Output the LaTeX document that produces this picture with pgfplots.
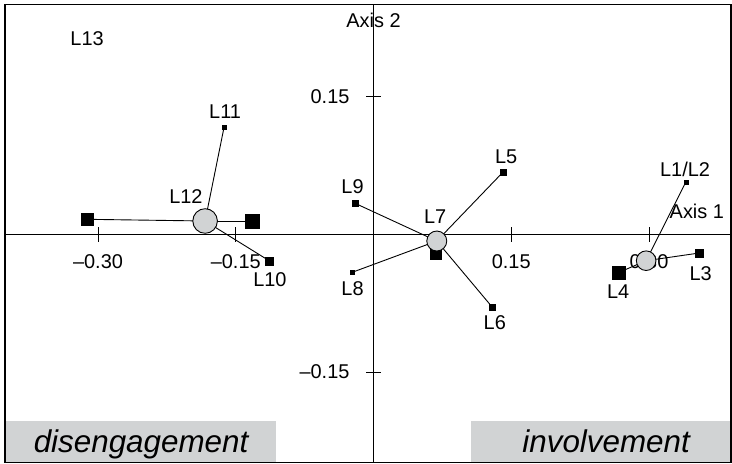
\documentclass[border=0pt]{standalone}
\usepackage{fontspec}
\setmainfont{Liberation Sans}
\usepackage{pgfplots}
\pgfplotsset{compat=1.18}
\definecolor{lgray}{RGB}{209,211,212}
\newcommand{\lf}{\fontsize{20}{24}\selectfont}
\newcommand{\boxfont}{\fontsize{31.5}{36}\selectfont\itshape}
\begin{document}
\begin{tikzpicture}
\begin{axis}[
  set layers,
  scale only axis, width=726bp, height=458.2bp,
  xmin=-0.4013, xmax=0.3893, ymin=-0.2486, ymax=0.2507,
  enlargelimits=false, clip=false,
  axis lines=middle, axis line style={-, line width=1.1bp, black},
  xtick={-0.30,-0.15,0.15,0.30}, xticklabels={–0.30,–0.15,0.15,0.30},
  ytick={-0.15,0.15}, yticklabels={–0.15,0.15},
  minor tick num=0,
  tick align=center, major tick length=15bp, tick style={line width=1bp, black},
  xticklabel style={font=\lf, inner sep=0pt, anchor=center, yshift=-19.4bp},
  yticklabel style={font=\lf, inner sep=0pt, anchor=east, xshift=-16.4bp},
]
% gray boxes
\fill[lgray] (axis cs:-0.4013,-0.2486) rectangle (axis cs:-0.1062,-0.2034);
\fill[lgray] (axis cs:0.1062,-0.2486) rectangle (axis cs:0.3893,-0.2034);
\node[anchor=base, inner sep=0pt] at (axis cs:-0.2531,-0.2372) {\boxfont disengagement};
\node[anchor=base, inner sep=0pt] at (axis cs:0.2533,-0.2372) {\boxfont involvement};

% connecting lines
\addplot[black, line width=0.9bp] coordinates {(-0.1834,0.01455) (-0.3122,0.0164)};
\addplot[black, line width=0.9bp] coordinates {(-0.1834,0.01455) (-0.1322,0.01455)};
\addplot[black, line width=0.9bp] coordinates {(-0.1834,0.01455) (-0.1627,0.1170)};
\addplot[black, line width=0.9bp] coordinates {(-0.1834,0.01455) (-0.1137,-0.0287)};
\addplot[black, line width=0.9bp] coordinates {(0.0689,-0.00725) (-0.0200,0.0338)};
\addplot[black, line width=0.9bp] coordinates {(0.0689,-0.00725) (-0.0233,-0.0414)};
\addplot[black, line width=0.9bp] coordinates {(0.0689,-0.00725) (0.1408,0.0676)};
\addplot[black, line width=0.9bp] coordinates {(0.0689,-0.00725) (0.1292,-0.0792)};
\addplot[black, line width=0.9bp] coordinates {(0.2969,-0.0287) (0.3401,0.0570)};
\addplot[black, line width=0.9bp] coordinates {(0.2969,-0.0287) (0.3549,-0.0203)};
\addplot[black, line width=0.9bp] coordinates {(0.2969,-0.0287) (0.2664,-0.0418)};

% squares
\addplot[only marks, mark=square*, mark size=6bp, mark options={black, line width=0.2bp}] coordinates {(-0.3122,0.0164)};
\addplot[only marks, mark=square*, mark size=7bp, mark options={black, line width=0.2bp}] coordinates {(-0.1322,0.01455)};
\addplot[only marks, mark=square*, mark size=6.5bp, mark options={black, line width=0.2bp}] coordinates {(0.2664,-0.0418)};
\addplot[only marks, mark=square*, mark size=5.5bp, mark options={black, line width=0.2bp}] coordinates {(0.0671,-0.02065)};
\addplot[only marks, mark=square*, mark size=4bp, mark options={black, line width=0.2bp}] coordinates {(-0.1137,-0.0287) (0.3549,-0.0203)};
\addplot[only marks, mark=square*, mark size=3bp, mark options={black, line width=0.2bp}] coordinates {(-0.0200,0.0338) (0.1408,0.0676) (0.1292,-0.0792)};
\addplot[only marks, mark=square*, mark size=2.2bp, mark options={black, line width=0.2bp}] coordinates {(-0.1627,0.1170) (-0.0233,-0.0414) (0.3401,0.0570)};

% centroids
\addplot[only marks, mark=*, mark size=12.3bp, mark options={fill=lgray, draw=black, line width=0.9bp}] coordinates {(-0.1834,0.01455)};
\addplot[only marks, mark=*, mark size=10bp, mark options={fill=lgray, draw=black, line width=0.9bp}] coordinates {(0.0689,-0.00725)};
\addplot[only marks, mark=*, mark size=9.8bp, mark options={fill=lgray, draw=black, line width=0.9bp}] coordinates {(0.2969,-0.0287)};

% labels
\begin{scope}[every node/.style={inner sep=0pt, anchor=center, font=\lf}]
\node at (axis cs:-0.3119,0.2136) {L13};
\node at (axis cs:-0.1616,0.1336) {L11};
\node at (axis cs:-0.2043,0.0407) {L12};
\node at (axis cs:-0.1128,-0.0492) {L10};
\node at (axis cs:-0.0228,0.0519) {L9};
\node at (axis cs:-0.0228,-0.0595) {L8};
\node at (axis cs:0.0672,0.0189) {L7};
\node at (axis cs:0.1444,0.0846) {L5};
\node at (axis cs:0.1321,-0.0966) {L6};
\node at (axis cs:0.3393,0.0705) {L1/L2};
\node at (axis cs:0.3562,-0.0424) {L3};
\node at (axis cs:0.2664,-0.0628) {L4};
\node at (axis cs:0.3521,0.0247) {Axis 1};
\node at (axis cs:0.0,0.2327) {Axis 2};
\end{scope}
\draw[line width=1.4bp] (rel axis cs:0,0) rectangle (rel axis cs:1,1);
\end{axis}
\path ([shift={(-5bp,-1.5bp)}]current axis.south west) rectangle ([shift={(1bp,4.3bp)}]current axis.north east);
\end{tikzpicture}
\end{document}
